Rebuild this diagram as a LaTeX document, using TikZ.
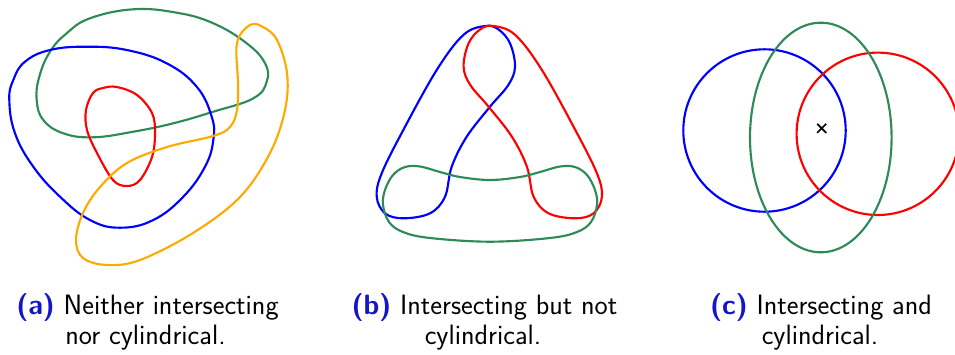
\documentclass[tikz,border=0pt]{standalone}
\usepackage{fontspec}
\definecolor{cblue}{RGB}{0,0,255}
\definecolor{cred}{RGB}{255,0,0}
\definecolor{cgreen}{RGB}{46,139,87}
\definecolor{corange}{RGB}{255,170,0}
\definecolor{labblue}{RGB}{20,20,200}
\newcommand{\capfont}{\fontsize{21}{25}\selectfont\sffamily}
\begin{document}
\begin{tikzpicture}[x=0.75pt,y=-0.75pt,
  curve/.style={line width=1.6pt},
  captext/.style={anchor=base,inner sep=0pt,font=\capfont}]
\useasboundingbox (0,0) rectangle (955,354);
% ---------- (a)
\draw[curve,cgreen] plot[smooth cycle,tension=0.7] coordinates {
 (36.7,100) (39.3,76.7) (50,51.7) (66.7,33.3) (90,18.3) (133.3,9.3) (176.7,12.7)
 (213.3,23.3) (246.7,43.3) (265,63.3) (266.7,81.7) (253.3,98.3) (213.3,111.7)
 (173.3,123.3) (133.3,131.7) (93.3,137.3) (63.3,133.3) (43.3,120)};
\draw[curve,cblue] plot[smooth cycle,tension=0.7] coordinates {
 (9.3,100) (13.3,80) (25,61.7) (50,50) (86.7,46.7) (126.7,50) (166.7,63.3)
 (196.7,86.7) (211.7,116.7) (213.3,140) (205,166.7) (183.3,196.7) (153.3,220)
 (120,227.7) (90,220) (60,196.7) (33.3,166.7) (15,133.3)};
\draw[curve,cred] plot[smooth cycle,tension=0.6] coordinates {
 (103,88) (117,87) (137,95) (152,113) (155,133) (152,157) (140,180) (127,186)
 (113,180) (97,153) (87,130) (86,110) (93,93)};
\draw[curve,corange] plot[smooth cycle,tension=0.6] coordinates {
 (237,43) (238,83) (237,110) (230,127) (213,136) (167,147) (127,163) (100,187)
 (83,213) (76,240) (83,258) (107,265) (140,260) (193,233) (240,197) (270,153)
 (285,110) (287,73) (277,40) (263,27) (250,25)};
% ---------- (b)
\draw[curve,cblue] plot[smooth cycle,tension=0.6] coordinates {
 (485,26) (463.3,35) (436.7,70) (403.3,130) (381.7,173.3) (376.7,196.7) (385,213.3)
 (403.3,218.3) (430,213.3) (445,196.7) (451.7,166.7) (466.7,136.7) (490,106.7)
 (508.3,85) (515,66.7) (510,43.3) (498.3,29.3)};
\begin{scope}[xshift=978.6*0.75pt,xscale=-1]
\draw[curve,cred] plot[smooth cycle,tension=0.6] coordinates {
 (485,26) (463.3,35) (436.7,70) (403.3,130) (381.7,173.3) (376.7,196.7) (385,213.3)
 (403.3,218.3) (430,213.3) (445,196.7) (451.7,166.7) (466.7,136.7) (490,106.7)
 (508.3,85) (515,66.7) (510,43.3) (498.3,29.3)};
\end{scope}
\draw[curve,cgreen] plot[smooth cycle,tension=0.6] coordinates {
 (490,180) (460,177) (440,172) (420,166.5) (405,167) (393,175) (385,190) (383,205)
 (389,222) (403,232) (430,238) (490,241.7)
 (550,238) (577,232) (591,222) (597,205) (595,190) (587,175) (575,167) (560,166.5)
 (540,172) (520,177)};
% ---------- (c)
\draw[curve,cblue] (764.5,130.5) circle[radius=81.2];
\draw[curve,cred] (877.8,133.8) circle[radius=81.2];
\draw[curve,cgreen] (820.8,137.5) ellipse[x radius=70.8,y radius=114.8];
\draw[line width=1.3pt] (817.2,123.8) -- (826.2,132.8) (817.2,132.8) -- (826.2,123.8);
% ---------- captions
\node[captext] (ca1) at (147.5,314.5) {{\bfseries\color{labblue}(a)} Neither intersecting};
\node[captext] (ca2) at (145.5,344.7) {nor cylindrical.};
\node[captext] (cb1) at (484.5,314.5) {{\bfseries\color{labblue}(b)} Intersecting but not};
\node[captext] (cb2) at (483,344.7) {cylindrical.};
\node[captext] (cc1) at (821,314.5) {{\bfseries\color{labblue}(c)} Intersecting and};
\node[captext] (cc2) at (820,344.7) {cylindrical.};
\end{tikzpicture}
\end{document}
